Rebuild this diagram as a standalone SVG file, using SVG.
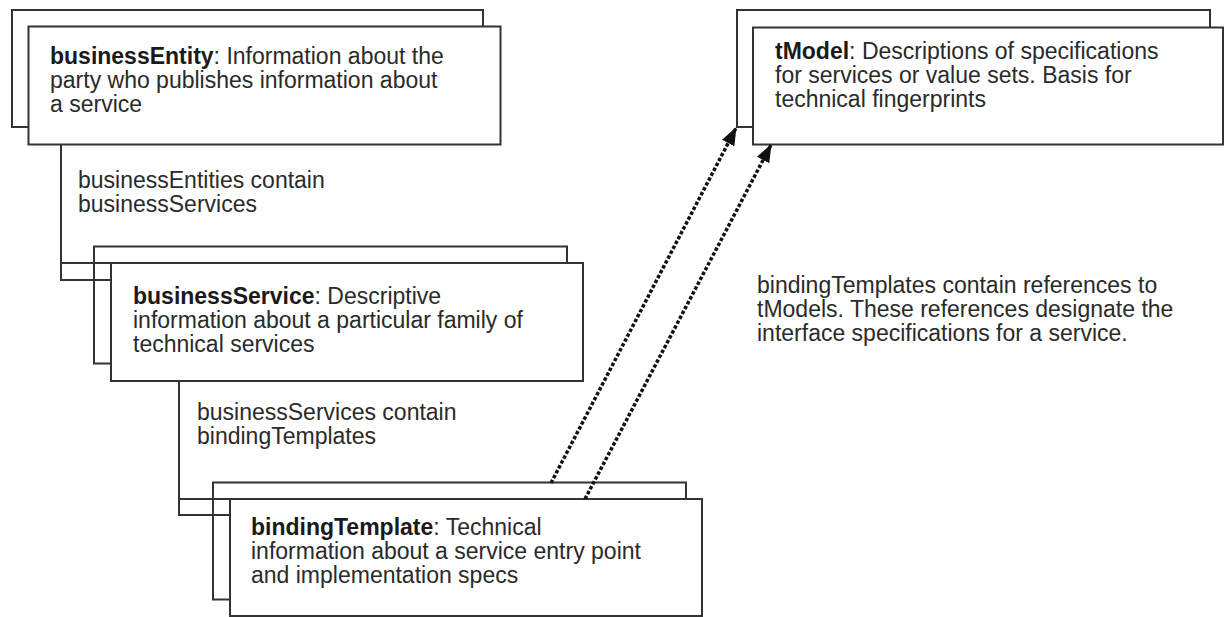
<svg xmlns="http://www.w3.org/2000/svg" width="1225" height="617" viewBox="0 0 1225 617">
  <defs>
    <style>
      .box { fill: #ffffff; stroke: #333333; stroke-width: 2; }
      .conn { fill: none; stroke: #333333; stroke-width: 2; }
      .ref { fill: none; stroke: #111111; stroke-width: 3.5; stroke-dasharray: 3.5 2; }
      text { font-family: "Liberation Sans", Arial, sans-serif; font-size: 23px; fill: #2a2a2a; }
      .b { font-weight: bold; fill: #1a1a1a; }
    </style>
    <marker id="arrow" viewBox="0 0 18 14" refX="17" refY="7" markerWidth="18" markerHeight="14" markerUnits="userSpaceOnUse" orient="auto">
      <path d="M0,0 L18,7 L0,14 Z" fill="#111111"/>
    </marker>
  </defs>
  <rect width="1225" height="617" fill="#ffffff"/>

  <g id="businessEntity">
    <rect class="box" x="12" y="10" width="471" height="117"/>
    <rect class="box" x="28.5" y="26.5" width="472" height="118"/>
    <text x="50" y="64"><tspan class="b">businessEntity</tspan>: Information about the</text>
    <text x="50" y="88">party who publishes information about</text>
    <text x="50" y="112">a service</text>
  </g>

  <g id="businessService">
    <rect class="box" x="94" y="246.5" width="473" height="117"/>
    <rect class="box" x="111" y="263" width="472" height="118"/>
    <text x="133" y="304"><tspan class="b">businessService</tspan>: Descriptive</text>
    <text x="133" y="328">information about a particular family of</text>
    <text x="133" y="352">technical services</text>
  </g>

  <g id="bindingTemplate">
    <rect class="box" x="213" y="482.5" width="473" height="117"/>
    <rect class="box" x="230" y="499" width="472" height="117"/>
    <text x="251" y="535"><tspan class="b">bindingTemplate</tspan>: Technical</text>
    <text x="251" y="559">information about a service entry point</text>
    <text x="251" y="583">and implementation specs</text>
  </g>

  <g id="tModel">
    <rect class="box" x="737" y="10" width="473" height="117"/>
    <rect class="box" x="753" y="27.5" width="470" height="117"/>
    <text x="775" y="59"><tspan class="b">tModel</tspan>: Descriptions of specifications</text>
    <text x="775" y="83">for services or value sets. Basis for</text>
    <text x="775" y="107">technical fingerprints</text>
  </g>

  <g id="labels">
    <text x="78" y="188">businessEntities contain</text>
    <text x="78" y="212">businessServices</text>
    <text x="197" y="420">businessServices contain</text>
    <text x="197" y="444">bindingTemplates</text>
    <text x="757" y="293">bindingTemplates contain references to</text>
    <text x="757" y="317">tModels. These references designate the</text>
    <text x="757" y="341">interface specifications for a service.</text>
  </g>

  <g id="connectors">
    <path class="conn" d="M61,145 V280 H111 M61,263 H111"/>
    <path class="conn" d="M179,381 V515 H230 M179,499 H230"/>
    <line class="ref" x1="551" y1="483" x2="736" y2="128" marker-end="url(#arrow)"/>
    <line class="ref" x1="585" y1="499" x2="771" y2="145" marker-end="url(#arrow)"/>
  </g>
</svg>
